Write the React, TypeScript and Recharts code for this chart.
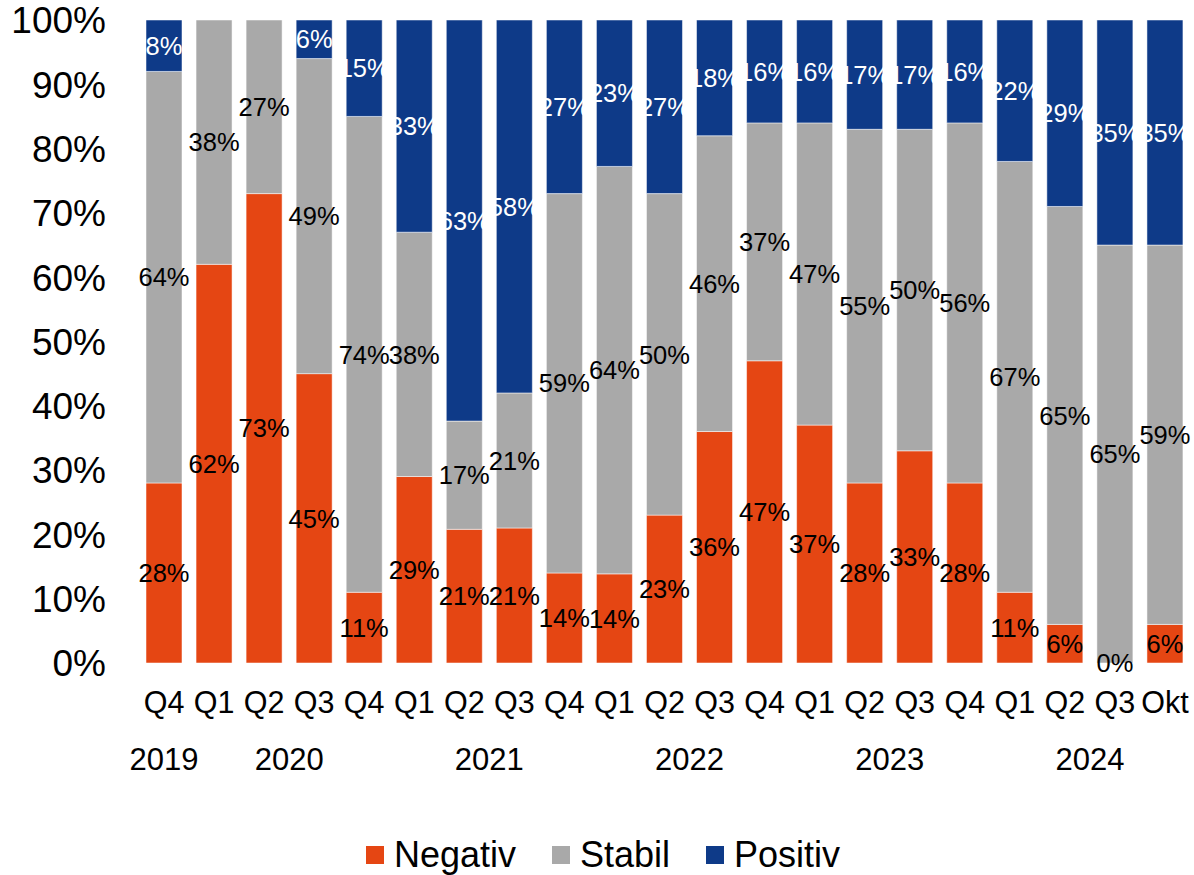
import React from 'react';
import { BarChart, Bar, XAxis, YAxis, Legend, LabelList } from 'recharts';

const categories = ['Q4', 'Q1', 'Q2', 'Q3', 'Q4', 'Q1', 'Q2', 'Q3', 'Q4', 'Q1', 'Q2', 'Q3', 'Q4', 'Q1', 'Q2', 'Q3', 'Q4', 'Q1', 'Q2', 'Q3', 'Okt'];
const negativ: (number | null)[] = [28, 62, 73, 45, 11, 29, 21, 21, 14, 14, 23, 36, 47, 37, 28, 33, 28, 11, 6, 0, 6];
const stabil: (number | null)[] = [64, 38, 27, 49, 74, 38, 17, 21, 59, 64, 50, 46, 37, 47, 55, 50, 56, 67, 65, 65, 59];
const positiv: (number | null)[] = [8, null, null, 6, 15, 33, 63, 58, 27, 23, 27, 18, 16, 16, 17, 17, 16, 22, 29, 35, 35];
const yearGroups = [
  { label: '2019', start: 0, count: 1 },
  { label: '2020', start: 1, count: 4 },
  { label: '2021', start: 5, count: 4 },
  { label: '2022', start: 9, count: 4 },
  { label: '2023', start: 13, count: 4 },
  { label: '2024', start: 17, count: 4 },
];
const yTicks = [0, 0.1, 0.2, 0.3, 0.4, 0.5, 0.6, 0.7, 0.8, 0.9, 1];

const data = categories.map((c, i) => ({
  id: i,
  q: c,
  neg: negativ[i],
  sta: stabil[i],
  pos: positiv[i],
}));

const FONT = "'Liberation Sans', Arial, sans-serif";
const C_NEG = '#E54613';
const C_STA = '#A9A9A9';
const C_POS = '#0E3A88';

const YTick = (props: any) => {
  const { x, y, payload } = props;
  return (
    <text x={x} y={y} dy="0.36em" textAnchor="end" fontSize={37} fontFamily={FONT} fill="#000">
      {Math.round(payload.value * 100) + '%'}
    </text>
  );
};

const XTick = (props: any) => {
  const { x, y, payload } = props;
  const idx = payload.index ?? payload.value;
  const half = payload.offset ?? 25;
  const grp = yearGroups.find((g) => g.start === idx);
  return (
    <g>
      <text x={x} y={y} dy={50} textAnchor="middle" fontSize={30.5} fontFamily={FONT} fill="#000">
        {categories[idx]}
      </text>
      {grp && (
        <text x={x + (grp.count - 1) * half} y={y} dy={107} textAnchor="middle" fontSize={31} fontFamily={FONT} fill="#000">
          {grp.label}
        </text>
      )}
    </g>
  );
};

const labelText = (cx: number, cy: number, value: number, color: string, key?: string) => (
  <text key={key} x={cx} y={cy} dy="0.36em" textAnchor="middle" fontSize={25.5} fontFamily={FONT} fill={color}>
    {value + '%'}
  </text>
);

const makeLabel = (color: string, withZeroNeg = false) => (props: any) => {
  const { x, y, width, height, value, index } = props;
  const cx = Number(x) + Number(width) / 2;
  const out: any[] = [];
  if (value !== null && value !== undefined) {
    out.push(labelText(cx, Number(y) + Number(height) / 2, value, color, 'v'));
  }
  // a zero-height Negativ segment sits at the bottom of the Stabil segment
  if (withZeroNeg && negativ[index] === 0) {
    out.push(labelText(cx, Number(y) + Number(height), 0, '#000', 'z'));
  }
  if (!out.length) return null;
  return <g>{out}</g>;
};

const legendItems = [
  { name: 'Negativ', color: C_NEG },
  { name: 'Stabil', color: C_STA },
  { name: 'Positiv', color: C_POS },
];

const LegendContent = () => (
  <div style={{ display: 'flex', justifyContent: 'center', alignItems: 'center', paddingTop: 60, paddingLeft: 16, fontFamily: FONT, fontSize: 36, color: '#000' }}>
    {legendItems.map((it, i) => (
      <div key={it.name} style={{ display: 'flex', alignItems: 'center', marginLeft: i === 0 ? 0 : 36 }}>
        <div style={{ width: 18, height: 18, background: it.color, marginRight: 10 }} />
        <span style={{ lineHeight: '40px' }}>{it.name}</span>
      </div>
    ))}
  </div>
);

export default function App() {
  return (
    <div style={{ position: 'absolute', left: 0, top: 0, width: 1194, height: 875, background: '#fff' }}>
      <BarChart
        width={1194}
        height={875}
        data={data}
        stackOffset="expand"
        margin={{ top: 20, right: 4, bottom: 0, left: 0 }}
      >
        <XAxis
          dataKey="id"
          type="category"
          axisLine={false}
          tickLine={false}
          tickSize={0}
          tickMargin={0}
          height={112}
          interval={0}
          tick={<XTick />}
        />
        <YAxis
          type="number"
          domain={[0, 1]}
          ticks={yTicks}
          axisLine={false}
          tickLine={false}
          tickSize={0}
          tickMargin={33}
          width={139}
          interval={0}
          tick={<YTick />}
        />
        <Legend verticalAlign="bottom" height={100} content={<LegendContent />} />
        <Bar dataKey="neg" name="Negativ" stackId="a" fill={C_NEG} barSize={36} stroke="#ffffff" strokeOpacity={0.5} strokeWidth={1} isAnimationActive={false}>
          <LabelList dataKey="neg" content={makeLabel('#000')} />
        </Bar>
        <Bar dataKey="sta" name="Stabil" stackId="a" fill={C_STA} barSize={36} stroke="#ffffff" strokeOpacity={0.5} strokeWidth={1} isAnimationActive={false}>
          <LabelList dataKey="sta" content={makeLabel('#000', true)} />
        </Bar>
        <Bar dataKey="pos" name="Positiv" stackId="a" fill={C_POS} barSize={36} stroke="#ffffff" strokeOpacity={0.5} strokeWidth={1} isAnimationActive={false}>
          <LabelList dataKey="pos" content={makeLabel('#fff')} />
        </Bar>
      </BarChart>
    </div>
  );
}
